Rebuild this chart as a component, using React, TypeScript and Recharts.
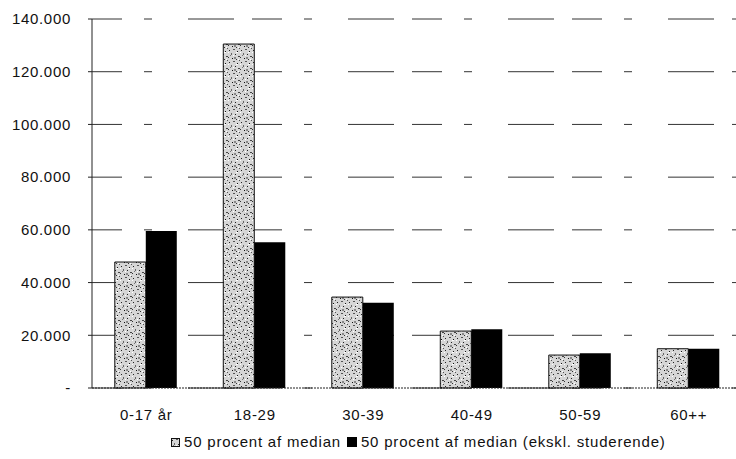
import React from 'react';
import { BarChart, Bar, XAxis, YAxis, CartesianGrid } from 'recharts';

const categories = ['0-17 år', '18-29', '30-39', '40-49', '50-59', '60++'];
const allValues = [47800, 130500, 34500, 21600, 12500, 14900];
const exStudents = [59600, 55300, 32300, 22300, 13200, 14900];
const yTicks = [0, 20000, 40000, 60000, 80000, 100000, 120000, 140000];

const SERIES_A = '50 procent af median';
const SERIES_B = '50 procent af median (ekskl. studerende)';

const data = categories.map((c, i) => ({
  name: c,
  a: allValues[i],
  b: exStudents[i],
}));

const fmt = (v: number) => (v === 0 ? '-' : v.toLocaleString('de-DE'));

const font = 'Liberation Sans, Arial, sans-serif';
const tickStyle = { fontFamily: font, fontSize: 15, fill: '#111', letterSpacing: 0.7 };

// speckled fill for the first series
const Speckle = () => (
  <defs>
    <pattern id="speckle" width="12" height="12" patternUnits="userSpaceOnUse">
      <rect width="12" height="12" fill="#d6d6d6" />
      <rect x="1" y="2" width="1" height="1" fill="#222" />
      <rect x="5" y="1" width="2" height="1" fill="#555" />
      <rect x="9" y="3" width="1" height="1" fill="#111" />
      <rect x="3" y="5" width="1" height="2" fill="#666" />
      <rect x="7" y="6" width="1" height="1" fill="#222" />
      <rect x="10" y="8" width="2" height="1" fill="#444" />
      <rect x="0" y="9" width="1" height="1" fill="#333" />
      <rect x="4" y="10" width="1" height="1" fill="#111" />
      <rect x="6" y="9" width="2" height="2" fill="#888" />
      <rect x="2" y="7" width="1" height="1" fill="#777" />
      <rect x="8" y="11" width="1" height="1" fill="#333" />
      <rect x="11" y="0" width="1" height="1" fill="#555" />
      <rect x="0" y="4" width="1" height="1" fill="#fff" />
      <rect x="8" y="4" width="2" height="1" fill="#fff" />
      <rect x="5" y="7" width="1" height="1" fill="#fff" />
      <rect x="10" y="11" width="1" height="1" fill="#fff" />
    </pattern>
  </defs>
);

const LegendBox = () => (
  <div
    style={{
      position: 'absolute',
      left: 171,
      top: 433,
      fontFamily: font,
      fontSize: 15,
      lineHeight: '17px',
      letterSpacing: 0.8,
      color: '#111',
      whiteSpace: 'nowrap',
    }}
  >
    <svg width="9" height="9" style={{ marginRight: 4, verticalAlign: 0 }}>
      <rect x="0.5" y="0.5" width="8" height="8" fill="url(#speckle)" stroke="#111" />
    </svg>
    <span style={{ marginRight: 6 }}>{SERIES_A}</span>
    <svg width="10" height="10" style={{ marginRight: 4, verticalAlign: 0 }}>
      <rect width="10" height="10" fill="#000" />
    </svg>
    <span>{SERIES_B}</span>
  </div>
);

export default function App() {
  return (
    <div
      style={{
        position: 'absolute',
        left: 0,
        top: 0,
        width: 736,
        height: 459,
        overflow: 'hidden',
        background: '#fff',
      }}
    >
      <BarChart
        width={736}
        height={459}
        data={data}
        margin={{ top: 19, right: -7, bottom: 41, left: 0 }}
        barCategoryGap="21%"
        barGap={0}
      >
        <Speckle />
        <CartesianGrid
          vertical={false}
          stroke="#333"
          strokeDasharray="30 22 8 36 46 18"
        />
        <XAxis
          dataKey="name"
          tickLine={false}
          axisLine={{ stroke: '#222', strokeDasharray: '2 1' }}
          tickMargin={15}
          tick={tickStyle}
          interval={0}
        />
        <YAxis
          width={92}
          domain={[0, 140000]}
          ticks={yTicks}
          tickFormatter={fmt}
          tickSize={4}
          tickMargin={17}
          tickLine={{ stroke: '#222' }}
          axisLine={{ stroke: '#222' }}
          tick={tickStyle}
        />
        <Bar
          dataKey="a"
          name={SERIES_A}
          fill="url(#speckle)"
          stroke="#111"
          strokeWidth={1}
          isAnimationActive={false}
        />
        <Bar dataKey="b" name={SERIES_B} fill="#000" isAnimationActive={false} />
      </BarChart>
      <LegendBox />
    </div>
  );
}
